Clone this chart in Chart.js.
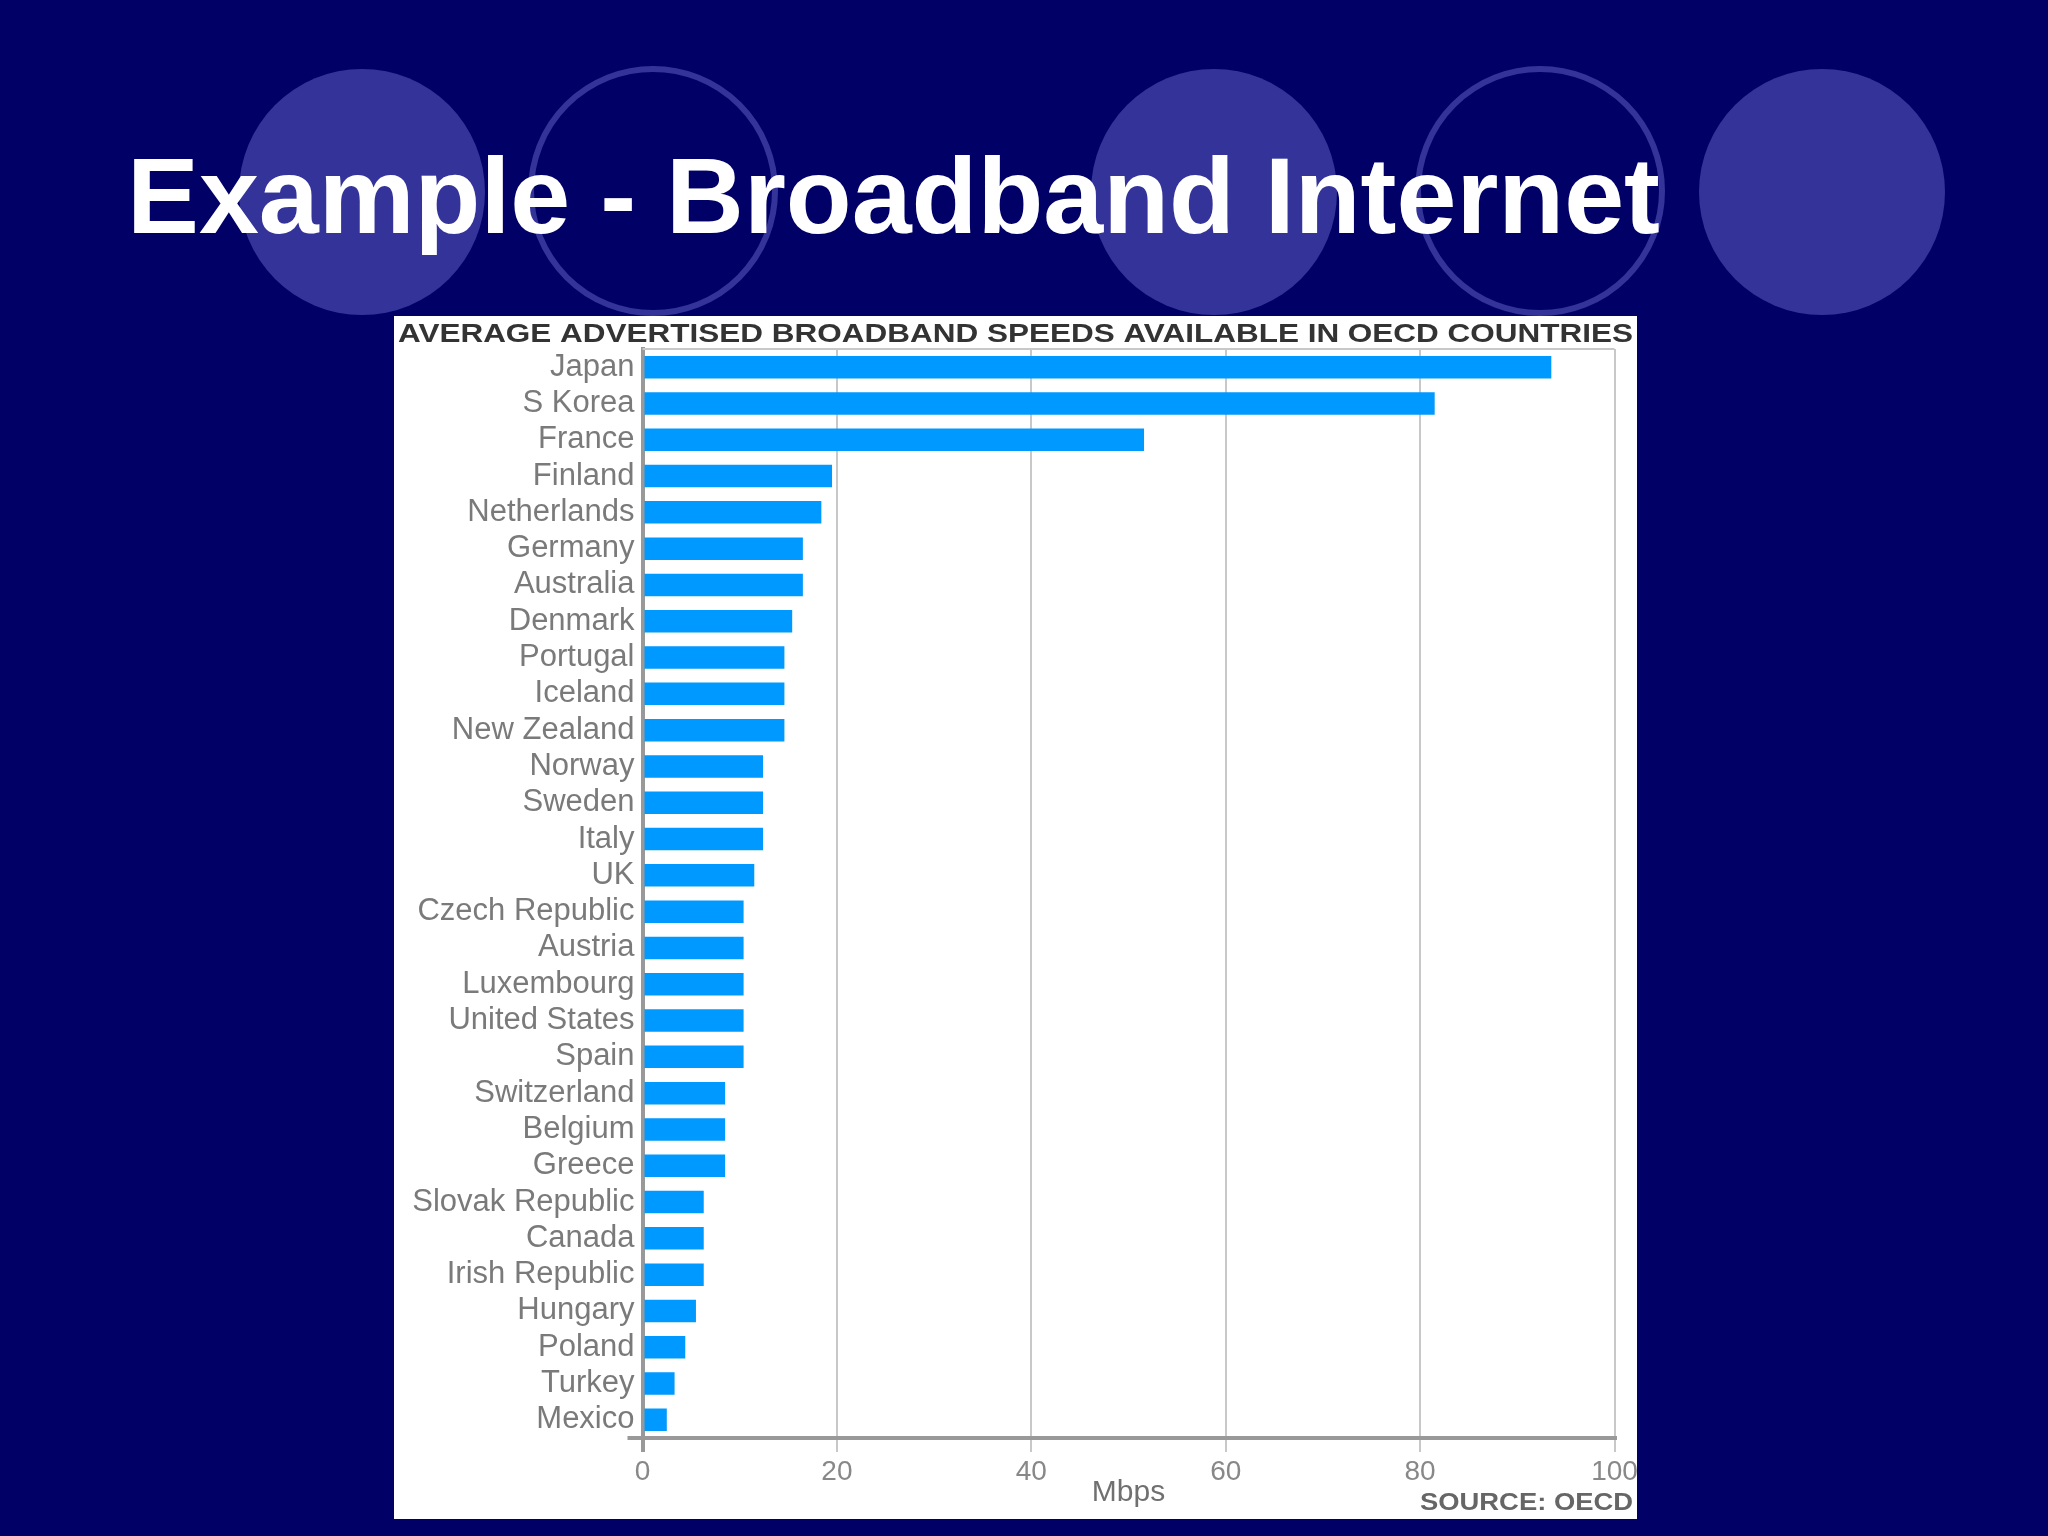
<!DOCTYPE html>
<html>
<head>
<meta charset="utf-8">
<title>Example - Broadband Internet</title>
<script src="https://cdn.jsdelivr.net/npm/chart.js@4"></script>
<style>
  html, body { margin: 0; padding: 0; background: #000066; }
  #wrap { position: relative; width: 2048px; height: 1536px; }
</style>
</head>
<body>
<div id="wrap"><canvas id="bar-chart"></canvas></div>
<script>
"use strict";

const countries = [
  "Japan", "S Korea", "France", "Finland", "Netherlands", "Germany",
  "Australia", "Denmark", "Portugal", "Iceland", "New Zealand", "Norway",
  "Sweden", "Italy", "UK", "Czech Republic", "Austria", "Luxembourg",
  "United States", "Spain", "Switzerland", "Belgium", "Greece",
  "Slovak Republic", "Canada", "Irish Republic", "Hungary", "Poland",
  "Turkey", "Mexico",
];
const speeds = [
  93.5, 81.5, 51.6, 19.5, 18.4, 16.5,
  16.5, 15.4, 14.6, 14.6, 14.6, 12.4,
  12.4, 12.4, 11.5, 10.4, 10.4, 10.4,
  10.4, 10.4, 8.5, 8.5, 8.5,
  6.3, 6.3, 6.3, 5.5, 4.4,
  3.3, 2.5,
];
const xTicks = [0, 20, 40, 60, 80, 100];

const slideTitle = "Example - Broadband Internet";
const panelTitle = "AVERAGE ADVERTISED BROADBAND SPEEDS AVAILABLE IN OECD COUNTRIES";
const sourceNote = "SOURCE: OECD";
const axisTitle = "Mbps";

const font = "'Liberation Sans', Arial, sans-serif";

// draw text stretched/squeezed to a given width
const fitText = (ctx, text, x, y, width) => {
  const w = ctx.measureText(text).width;
  ctx.save();
  ctx.translate(x, y);
  ctx.scale(width / w, 1);
  ctx.fillText(text, 0, 0);
  ctx.restore();
};

const slide = {
  id: "slide",
  beforeDraw(chart) {
    const ctx = chart.ctx;
    ctx.save();
    ctx.fillStyle = "#000066";
    ctx.fillRect(0, 0, chart.width, chart.height);

    // decorative circles behind the heading
    const discs = [
      [362, 192, true], [653, 191, false], [1214, 192, true],
      [1540, 191, false], [1822, 192, true],
    ];
    discs.forEach(([cx, cy, filled]) => {
      ctx.beginPath();
      if (filled) {
        ctx.arc(cx, cy, 123, 0, Math.PI * 2);
        ctx.fillStyle = "#333399";
        ctx.fill();
      } else {
        ctx.arc(cx, cy, 122, 0, Math.PI * 2);
        ctx.lineWidth = 6;
        ctx.strokeStyle = "#333399";
        ctx.stroke();
      }
    });

    ctx.fillStyle = "#ffffff";
    ctx.font = "bold 108px " + font;
    ctx.textBaseline = "alphabetic";
    fitText(ctx, slideTitle, 127, 233, 1533);

    // white panel holding the chart
    ctx.fillRect(394, 316, 1243, 1203);
    ctx.fillStyle = "#333333";
    ctx.font = "bold 26px " + font;
    fitText(ctx, panelTitle, 398, 342, 1235);
    ctx.restore();
  },
  beforeDatasetsDraw(chart) {
    const { ctx, chartArea } = chart;
    ctx.save();
    ctx.strokeStyle = "#c8c8c8";
    ctx.lineWidth = 2;
    ctx.beginPath();
    ctx.moveTo(chartArea.left, chartArea.top);
    ctx.lineTo(chartArea.right, chartArea.top);
    ctx.stroke();
    ctx.restore();
  },
  afterDraw(chart) {
    const { ctx, chartArea } = chart;
    ctx.save();
    ctx.strokeStyle = "#999999";
    ctx.lineWidth = 4;
    ctx.beginPath();
    ctx.moveTo(chartArea.left - 15, chartArea.bottom);
    ctx.lineTo(chartArea.left, chartArea.bottom);
    ctx.stroke();

    ctx.fillStyle = "#666666";
    ctx.font = "bold 24px " + font;
    ctx.textBaseline = "middle";
    fitText(ctx, sourceNote, 1420, 1503, 213);
    ctx.restore();
  },
};

new Chart(document.getElementById("bar-chart"), {
  type: "bar",
  data: {
    labels: countries,
    datasets: [
      {
        label: "Mbps",
        data: speeds,
        backgroundColor: "#0099ff",
        borderWidth: 0,
        barPercentage: 0.62,
        categoryPercentage: 1,
      },
    ],
  },
  options: {
    indexAxis: "y",
    responsive: true,
    maintainAspectRatio: false,
    animation: false,
    layout: {
      padding: { left: 394, top: 349, right: 433.5, bottom: 17 },
    },
    plugins: {
      legend: { display: false },
      tooltip: { enabled: false },
    },
    scales: {
      x: {
        min: 0,
        max: 100,
        afterBuildTicks: (scale) => {
          scale.ticks = xTicks.map((v) => ({ value: v }));
        },
        afterFit: (scale) => {
          scale.height = 81;
        },
        ticks: {
          color: "#888888",
          font: { family: font, size: 28 },
          padding: 3,
        },
        grid: {
          color: (c) => (c.tick && c.tick.value === 0 ? "#999999" : "#c8c8c8"),
          lineWidth: (c) => (c.tick && c.tick.value === 0 ? 4 : 2),
          tickLength: 14,
        },
        border: { color: "#999999", width: 4 },
        title: {
          display: true,
          text: axisTitle,
          color: "#707070",
          font: { family: font, size: 30 },
          padding: { top: 0, bottom: 8 },
        },
      },
      y: {
        afterFit: (scale) => {
          scale.width = 248.5;
        },
        ticks: {
          color: "#7a7a7a",
          font: { family: font, size: 31 },
          padding: 8,
          autoSkip: false,
        },
        grid: { display: false, drawTicks: false },
        border: { display: true, color: "#999999", width: 4 },
      },
    },
  },
  plugins: [slide],
});
</script>
</body>
</html>
